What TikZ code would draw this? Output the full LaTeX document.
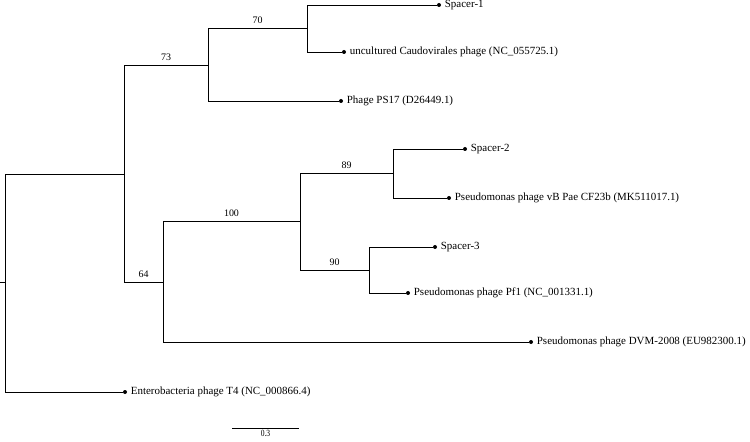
\documentclass[tikz,border=0pt]{standalone}
\usepackage{fontspec}
\setmainfont{Liberation Serif}
\usepackage{tikz}
\tikzset{
  branch/.style={line width=0.6bp, black},
  tipdot/.style={circle, fill=black, inner sep=0pt, minimum size=4bp},
  tiplab/.style={font=\fontsize{11}{12}\selectfont, inner sep=1bp},
  boot/.style={font=\fontsize{10}{11}\selectfont, above, inner sep=4bp},
  scalelab/.style={font=\fontsize{9.5}{10}\selectfont, below, inner sep=2bp, xscale=0.8}
}
\def\leaf#1#2#3{\node[tipdot, label={[tiplab, label distance=2.5bp]right:#3}] (#1) at #2 {};}

\begin{document}
\begin{tikzpicture}[x=1bp, y=-1bp]
\useasboundingbox (0,0) rectangle (750,442);
\coordinate (stub) at (0,282);
\coordinate (root) at (5,282);
\coordinate (nA) at (124,174);
\coordinate (n73) at (208,65);
\coordinate (n70) at (307,28);
\coordinate (n64) at (163,282);
\coordinate (n100) at (300,221);
\coordinate (n89) at (393,173);
\coordinate (n90) at (369,270);
\leaf{sp1}{(439,5)}{Spacer-1}
\leaf{unc}{(344,52)}{uncultured Caudovirales phage (NC\_055725.1)}
\leaf{ps17}{(341,101)}{Phage PS17 (D26449.1)}
\leaf{sp2}{(465,149)}{Spacer-2}
\leaf{vbpae}{(449,198)}{Pseudomonas phage vB Pae CF23b (MK511017.1)}
\leaf{sp3}{(435,247)}{Spacer-3}
\leaf{pf1}{(408,293)}{Pseudomonas phage Pf1 (NC\_001331.1)}
\leaf{dvm}{(531,342)}{Pseudomonas phage DVM-2008 (EU982300.1)}
\leaf{t4}{(125,392)}{Enterobacteria phage T4 (NC\_000866.4)}
\draw[branch] (stub) -- (root);
\draw[branch] (root) |- (nA);
\draw[branch] (root) |- (t4);
\draw[branch] (nA) |- node[boot, pos=0.75] {73} (n73);
\draw[branch] (nA) |- node[boot, pos=0.75] {64} (n64);
\draw[branch] (n73) |- node[boot, pos=0.75] {70} (n70);
\draw[branch] (n73) |- (ps17);
\draw[branch] (n70) |- (sp1);
\draw[branch] (n70) |- (unc);
\draw[branch] (n64) |- node[boot, pos=0.75] {100} (n100);
\draw[branch] (n64) |- (dvm);
\draw[branch] (n100) |- node[boot, pos=0.75] {89} (n89);
\draw[branch] (n100) |- node[boot, pos=0.75] {90} (n90);
\draw[branch] (n89) |- (sp2);
\draw[branch] (n89) |- (vbpae);
\draw[branch] (n90) |- (sp3);
\draw[branch] (n90) |- (pf1);
\coordinate (barL) at (232,428);
\coordinate (barR) at (299,428);
\draw[branch] (barL) -- node[scalelab] {0.3} (barR);
\end{tikzpicture}
\end{document}
